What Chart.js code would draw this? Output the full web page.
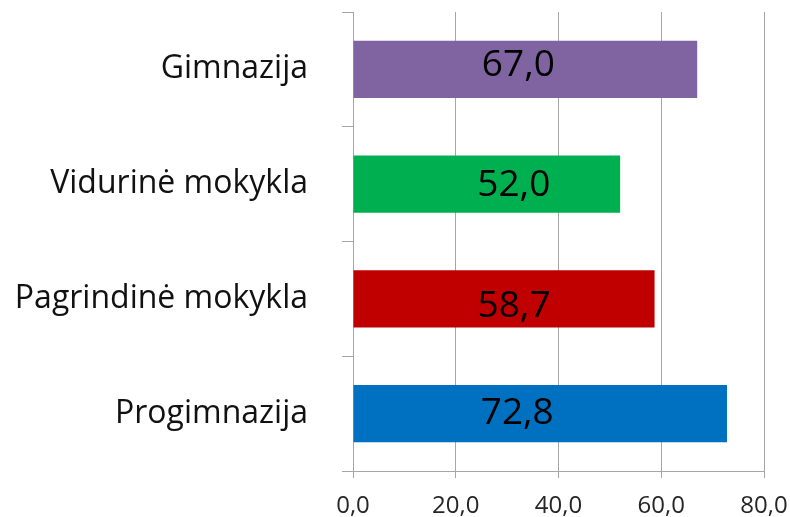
<!DOCTYPE html>
<html>
<head>
<meta charset="utf-8">
<script src="https://cdn.jsdelivr.net/npm/chart.js@4/dist/chart.umd.min.js"></script>
<style>
html,body{margin:0;padding:0;background:#fff;}
#wrap{width:790px;height:517px;}
</style>
</head>
<body>
<div id="wrap"><canvas id="c" width="790" height="517"></canvas></div>
<script>
const categories = ["Gimnazija", "Vidurinė mokykla", "Pagrindinė mokykla", "Progimnazija"];
const values = [67.0, 52.0, 58.7, 72.8];
const barColors = ["#8064A2", "#00B050", "#C00000", "#0070C0"];
const xTicks = [0, 20, 40, 60, 80];
// label nudges (px) relative to bar centre, as placed in the original
const labelDx = [-7, 27, 10, -23];
const labelDy = [-3, 2, 9, 1];

const fmt = v => Number(v).toFixed(1).replace('.', ',');
const gridCol = '#A6A6A6';

const labelPlugin = {
  id: 'barLabels',
  afterDatasetsDraw(chart) {
    const ctx = chart.ctx;
    const meta = chart.getDatasetMeta(0);
    ctx.save();
    ctx.font = '37px "Open Sans"';
    ctx.fillStyle = '#000';
    ctx.textAlign = 'center';
    ctx.textBaseline = 'middle';
    meta.data.forEach((el, i) => {
      const p = el.getProps(['x', 'y', 'base'], true);
      ctx.fillText(fmt(values[i]), (p.x + p.base) / 2 + labelDx[i], p.y + labelDy[i] - 1);
    });
    ctx.restore();
  }
};

new Chart(document.getElementById('c'), {
  type: 'bar',
  data: {
    labels: categories,
    datasets: [{
      data: values,
      backgroundColor: barColors,
      borderWidth: 0,
      barPercentage: 0.5,
      categoryPercentage: 1.0
    }]
  },
  options: {
    indexAxis: 'y',
    responsive: false,
    animation: false,
    devicePixelRatio: 1,
    layout: { padding: { top: 12, right: 26, left: 0, bottom: 0 } },
    plugins: { legend: { display: false }, tooltip: { enabled: false } },
    scales: {
      x: {
        min: 0, max: 80,
        afterBuildTicks(scale) { scale.ticks = xTicks.map(v => ({ value: v })); },
        afterFit(scale) { scale.height = 46; scale.paddingLeft = 0; scale.paddingRight = 0; },
        ticks: {
          callback: v => fmt(v),
          font: { family: '"Open Sans"', size: 24 },
          color: '#262626',
          padding: 14,
          maxRotation: 0
        },
        grid: { color: gridCol, lineWidth: 1, tickLength: 7 },
        border: { color: gridCol }
      },
      y: {
        offset: true,
        afterFit(scale) { scale.width = 353; scale.paddingTop = 0; scale.paddingBottom = 0; },
        ticks: {
          font: { family: '"Open Sans"', size: 32 },
          color: '#111',
          padding: 34
        },
        grid: { offset: true, drawOnChartArea: false, color: gridCol, tickLength: 11 },
        border: { color: gridCol }
      }
    }
  },
  plugins: [labelPlugin]
});
</script>
</body>
</html>
